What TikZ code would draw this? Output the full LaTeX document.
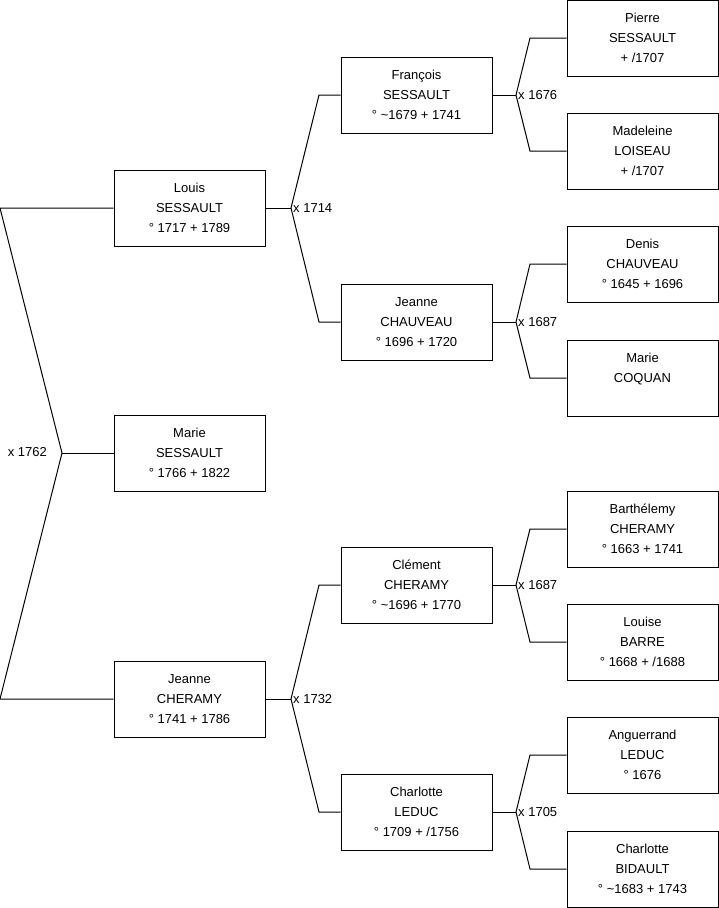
\documentclass[tikz,border=0pt]{standalone}
\usepackage{fontspec}
\setmainfont{Liberation Sans}
\begin{document}
\begin{tikzpicture}[x=1pt,y=-1pt,
  person/.style={draw=black,fill=white,line width=1pt,rectangle,minimum width=151pt,minimum height=76pt,inner sep=0pt,align=center,font=\fontsize{13}{20}\selectfont},
  link/.style={draw=black,line width=1pt},
  union/.style={inner sep=2pt,font=\fontsize{13}{15}\selectfont}]
\useasboundingbox (0,0) rectangle (719,908);
% column 1
\node[person] (louis) at (189.5,208) {Louis\\SESSAULT\\° 1717 + 1789};
\node[person] (marie) at (189.5,453) {Marie\\SESSAULT\\° 1766 + 1822};
\node[person] (jeanne) at (189.5,699) {Jeanne\\CHERAMY\\° 1741 + 1786};
% column 2
\node[person] (francois) at (416.5,95) {François\\SESSAULT\\° \textasciitilde1679 + 1741};
\node[person] (jeannec) at (416.5,322) {Jeanne\\CHAUVEAU\\° 1696 + 1720};
\node[person] (clement) at (416.5,585) {Clément\\CHERAMY\\° \textasciitilde1696 + 1770};
\node[person] (charlottel) at (416.5,812) {Charlotte\\LEDUC\\° 1709 + /1756};
% column 3
\node[person] (pierre) at (642.5,38) {Pierre\\SESSAULT\\+ /1707};
\node[person] (madeleine) at (642.5,151) {Madeleine\\LOISEAU\\+ /1707};
\node[person] (denis) at (642.5,264) {Denis\\CHAUVEAU\\° 1645 + 1696};
\node[person] (mariec) at (642.5,378) {Marie\\COQUAN\\\mbox{}};
\node[person] (barth) at (642.5,529) {Barthélemy\\CHERAMY\\° 1663 + 1741};
\node[person] (louise) at (642.5,642) {Louise\\BARRE\\° 1668 + /1688};
\node[person] (anguerrand) at (642.5,755) {Anguerrand\\LEDUC\\° 1676};
\node[person] (charlotteb) at (642.5,869) {Charlotte\\BIDAULT\\° \textasciitilde1683 + 1743};
% root union
\coordinate (r0) at (62,453);
\coordinate (rt) at (0,208);
\coordinate (rb) at (0,699);
\draw[link] (louis.west) -- (rt) -- (r0) -- (rb) -- (jeanne.west);
\draw[link] (r0) -- (marie.west);
\node[union,anchor=east] (u0) at (49,452) {x 1762};
% Louis' parents
\coordinate (j1) at (291,208);
\coordinate (j1a) at (319,95);
\coordinate (j1b) at (319,322);
\draw[link] (louis.east) -- (j1);
\draw[link] (francois.west) -- (j1a) -- (j1) -- (j1b) -- (jeannec.west);
\node[union,anchor=west] (u1) at (j1) {x 1714};
% Jeanne's parents
\coordinate (j2) at (291,699);
\coordinate (j2a) at (319,585);
\coordinate (j2b) at (319,812);
\draw[link] (jeanne.east) -- (j2);
\draw[link] (clement.west) -- (j2a) -- (j2) -- (j2b) -- (charlottel.west);
\node[union,anchor=west] (u2) at (j2) {x 1732};
% François' parents
\coordinate (j3) at (516,95);
\coordinate (j3a) at (530,38);
\coordinate (j3b) at (530,151);
\draw[link] (francois.east) -- (j3);
\draw[link] (pierre.west) -- (j3a) -- (j3) -- (j3b) -- (madeleine.west);
\node[union,anchor=west] (u3) at (j3) {x 1676};
% Jeanne Chauveau's parents
\coordinate (j4) at (516,322);
\coordinate (j4a) at (530,264);
\coordinate (j4b) at (530,378);
\draw[link] (jeannec.east) -- (j4);
\draw[link] (denis.west) -- (j4a) -- (j4) -- (j4b) -- (mariec.west);
\node[union,anchor=west] (u4) at (j4) {x 1687};
% Clément's parents
\coordinate (j5) at (516,585);
\coordinate (j5a) at (530,529);
\coordinate (j5b) at (530,642);
\draw[link] (clement.east) -- (j5);
\draw[link] (barth.west) -- (j5a) -- (j5) -- (j5b) -- (louise.west);
\node[union,anchor=west] (u5) at (j5) {x 1687};
% Charlotte Leduc's parents
\coordinate (j6) at (516,812);
\coordinate (j6a) at (530,755);
\coordinate (j6b) at (530,869);
\draw[link] (charlottel.east) -- (j6);
\draw[link] (anguerrand.west) -- (j6a) -- (j6) -- (j6b) -- (charlotteb.west);
\node[union,anchor=west] (u6) at (j6) {x 1705};
\end{tikzpicture}
\end{document}
